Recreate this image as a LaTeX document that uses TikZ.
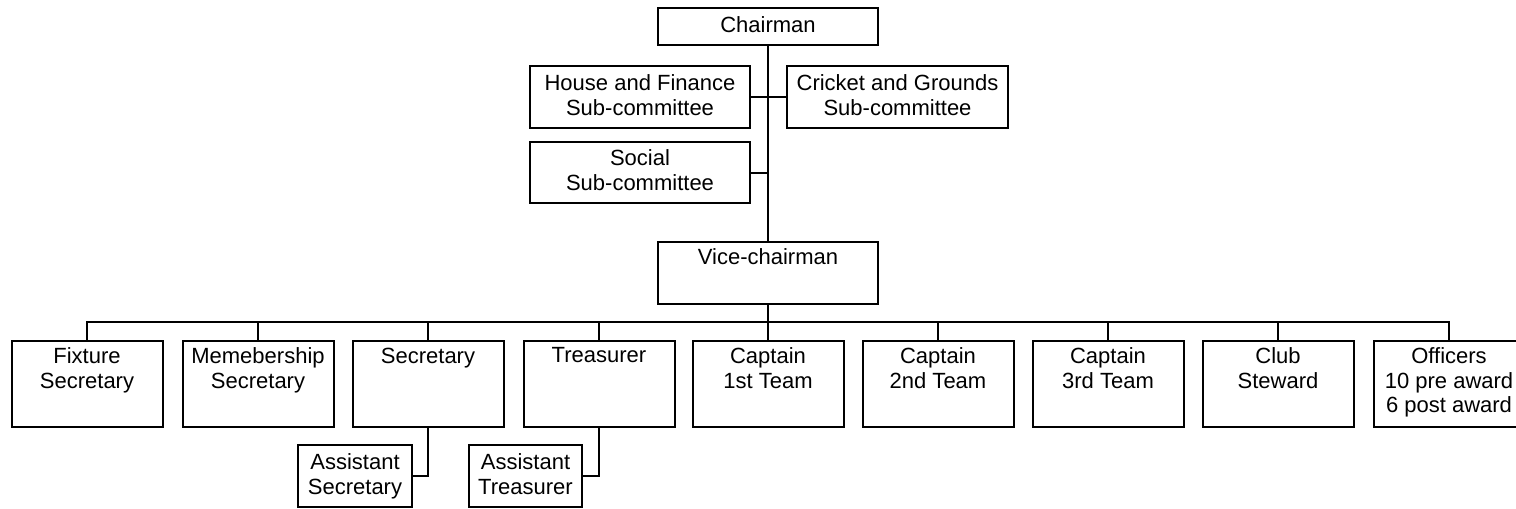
\documentclass[tikz,border=0pt]{standalone}
\usepackage{fontspec}
\setmainfont{Liberation Sans}
\begin{document}
\begin{tikzpicture}[x=0.75pt,y=-0.75pt,line width=1.5pt,
  box/.style={draw,line width=1.5pt,inner sep=0pt,align=center,
    font=\fontsize{16.5}{18.5}\selectfont,
    execute at end node=\vphantom{gy}},
  size/.style 2 args={minimum width=#1*0.75pt,minimum height=#2*0.75pt},
  unitbox/.style={draw,line width=1.5pt,inner sep=0pt,size={151}{86}},
  toptext/.style={anchor=north,yshift=-5pt,inner sep=0pt,align=center,
    font=\fontsize{16.5}{18.5}\selectfont}]
\useasboundingbox (0,0) rectangle (1516,508);
\clip (0,0) rectangle (1516,508);

% committee
\node[box,size={220}{37}] (chair) at (768,26.5) {Chairman};
\node[box,size={220}{62}] (house) at (640,97) {House and Finance\\Sub-committee};
\node[box,size={221}{62}] (cricket) at (897.5,97) {Cricket and Grounds\\Sub-committee};
\node[box,size={220}{61}] (social) at (640,172.5) {Social\\Sub-committee};
\node[unitbox,size={220}{62},label={[toptext]north:Vice-chairman}] (vice) at (768,273) {};

% officers row
\node[unitbox,label={[toptext]north:{Fixture\\Secretary}}] (fix) at (87,384) {};
\node[unitbox,label={[toptext]north:{Memebership\\Secretary}}] (memb) at (258,384) {};
\node[unitbox,label={[toptext]north:{Secretary}}] (sec) at (428,384) {};
\node[unitbox,label={[toptext]north:{Treasurer}}] (treas) at (599,384) {};
\node[unitbox,label={[toptext]north:{Captain\\1st Team}}] (capa) at (768,384) {};
\node[unitbox,label={[toptext]north:{Captain\\2nd Team}}] (capb) at (938,384) {};
\node[unitbox,label={[toptext]north:{Captain\\3rd Team}}] (capc) at (1108,384) {};
\node[unitbox,label={[toptext]north:{Club\\Steward}}] (stew) at (1278,384) {};
\node[unitbox,label={[toptext]north:{Officers\\10 pre award\\6 post award}}] (offi) at (1449,384) {};

% assistants
\node[box,size={114}{62}] (asec) at (355,476) {Assistant\\Secretary};
\node[box,size={113}{62}] (atreas) at (525.5,476) {Assistant\\Treasurer};

% connectors
\coordinate (bus) at (768,322);
\draw (chair.south) -- (vice.north);
\draw (house.east) -- (cricket.west);
\draw (social.east) -- (social.east -| chair.south);
\draw (vice.south) -- (bus);
\draw (fix.north) -- (fix.north |- bus) -- (offi.north |- bus) -- (offi.north);
\foreach \n in {memb,sec,treas,capa,capb,capc,stew}
  \draw (\n.north) -- (\n.north |- bus);
\draw (sec.south) |- (asec.east);
\draw (treas.south) |- (atreas.east);
\end{tikzpicture}
\end{document}
